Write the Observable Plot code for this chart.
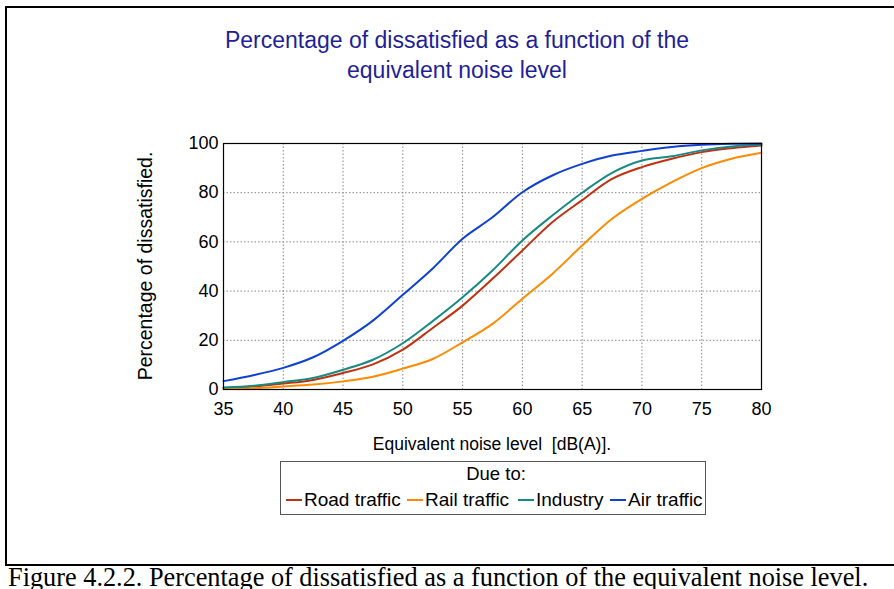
<!DOCTYPE html>
<html><head><meta charset="utf-8">
<script src="https://cdn.jsdelivr.net/npm/d3@7"></script>
<script src="https://cdn.jsdelivr.net/npm/@observablehq/plot@0.6"></script>
<style>
html,body{margin:0;padding:0;background:#fff;}
body{width:894px;height:589px;overflow:hidden;position:relative;font-family:"Liberation Sans",Arial,sans-serif;}
#box{position:absolute;left:5px;top:6px;width:920px;height:560px;border:2px solid #000;border-right:none;box-sizing:border-box;}
#title{position:absolute;left:0;top:25px;width:914px;text-align:center;font-size:23px;line-height:30px;color:#1f1f99;}
#chart{position:absolute;left:130px;top:125px;}
#ylabel{position:absolute;left:145px;top:266px;transform:translate(-50%,-50%) rotate(-90deg);white-space:nowrap;font-size:19.5px;color:#000;}
#xlabel{position:absolute;left:492px;top:434px;transform:translateX(-50%);white-space:pre;font-size:17.5px;color:#000;}
#legend{position:absolute;left:280px;top:461px;width:426px;height:54px;border:1px solid #555;box-sizing:border-box;}
#legtitle{position:absolute;left:215px;top:1px;transform:translateX(-50%);white-space:nowrap;font-size:18.5px;}
.item{position:absolute;top:27px;white-space:nowrap;font-size:19px;line-height:22px;}
.sw{display:inline-block;width:16px;height:2px;vertical-align:middle;margin-right:2px;position:relative;top:-1px;}
#caption{position:absolute;left:8px;top:565px;font-family:"Liberation Serif","Times New Roman",serif;font-size:26.3px;line-height:26px;white-space:nowrap;color:#000;}
</style></head>
<body>
<div id="box"></div>
<div id="title">Percentage of dissatisfied as a function of the<br>equivalent noise level</div>
<div id="chart"></div>
<div id="ylabel">Percentage of dissatisfied.</div>
<div id="xlabel">Equivalent noise level  [dB(A)].</div>
<div id="legend"><div id="legtitle">Due to:</div></div>
<div id="caption">Figure 4.2.2. Percentage of dissatisfied as a function of the equivalent noise level.</div>
<script>
const levels   = [35, 37.5, 40, 42.5, 45, 47.5, 50, 52.5, 55, 57.5, 60, 62.5, 65, 67.5, 70, 72.5, 75, 77.5, 80];
const road     = [0.5, 1.2, 2.4, 3.9, 6.7, 10.2, 16.2, 25.0, 34.1, 45.0, 56.5, 68.0, 77.0, 85.6, 90.4, 93.8, 96.5, 98.1, 99.2];
const rail     = [0.2, 0.5, 1.2, 2.0, 3.3, 5.2, 8.5, 12.4, 19.2, 26.7, 36.9, 47.0, 58.5, 69.4, 77.5, 84.3, 90.0, 93.8, 96.2];
const industry = [0.8, 1.5, 3.0, 4.7, 8.0, 12.1, 18.8, 27.8, 37.5, 48.4, 60.6, 70.7, 80.0, 88.1, 93.1, 94.8, 97.2, 98.8, 99.6];
const air      = [3.4, 5.8, 8.8, 13.1, 19.8, 28.0, 38.5, 49.2, 61.3, 70.0, 80.2, 87.0, 91.7, 95.1, 97.0, 98.6, 99.5, 99.9, 100];
const seriesNames = ["Road traffic", "Rail traffic", "Industry", "Air traffic"];
const seriesColors = ["#c1310e", "#ff8a00", "#188a84", "#0f41d2"];
const xTicks = [35, 40, 45, 50, 55, 60, 65, 70, 75, 80];
const yTicks = [0, 20, 40, 60, 80, 100];

const allSeries = [road, rail, industry, air];
const rows = [];
allSeries.forEach((vals, si) => vals.forEach((v, i) => rows.push({level: levels[i], pct: v, source: seriesNames[si]})));

const chart = Plot.plot({
  width: 650, height: 300,
  marginLeft: 93, marginRight: 19, marginTop: 18, marginBottom: 36,
  style: {fontSize: "18px", fontFamily: "'Liberation Sans', Arial, sans-serif", color: "#000", background: "transparent"},
  x: {domain: [35, 80]},
  y: {domain: [0, 100]},
  color: {domain: seriesNames, range: seriesColors},
  marks: [
    Plot.gridX(xTicks, {stroke: "#888", strokeOpacity: 1, strokeDasharray: "1.5,2"}),
    Plot.gridY(yTicks, {stroke: "#888", strokeOpacity: 1, strokeDasharray: "1.5,2"}),
    Plot.axisX(xTicks, {tickSize: 0, tickPadding: 13, label: null}),
    Plot.axisY(yTicks, {tickSize: 0, tickPadding: 5, label: null}),
    Plot.line(rows, {x: "level", y: "pct", z: "source", stroke: "source", strokeWidth: 2, curve: "catmull-rom"}),
    Plot.frame({stroke: "#000", strokeWidth: 1.2})
  ]
});
document.getElementById("chart").appendChild(chart);

const legend = document.getElementById("legend");
const itemLeft = [5, 126, 237, 329];
seriesNames.forEach((n, i) => {
  const it = document.createElement("div");
  it.className = "item";
  it.style.left = itemLeft[i] + "px";
  const sw = document.createElement("span");
  sw.className = "sw";
  sw.style.background = seriesColors[i];
  it.appendChild(sw);
  it.appendChild(document.createTextNode(n));
  legend.appendChild(it);
});
</script>
</body></html>
